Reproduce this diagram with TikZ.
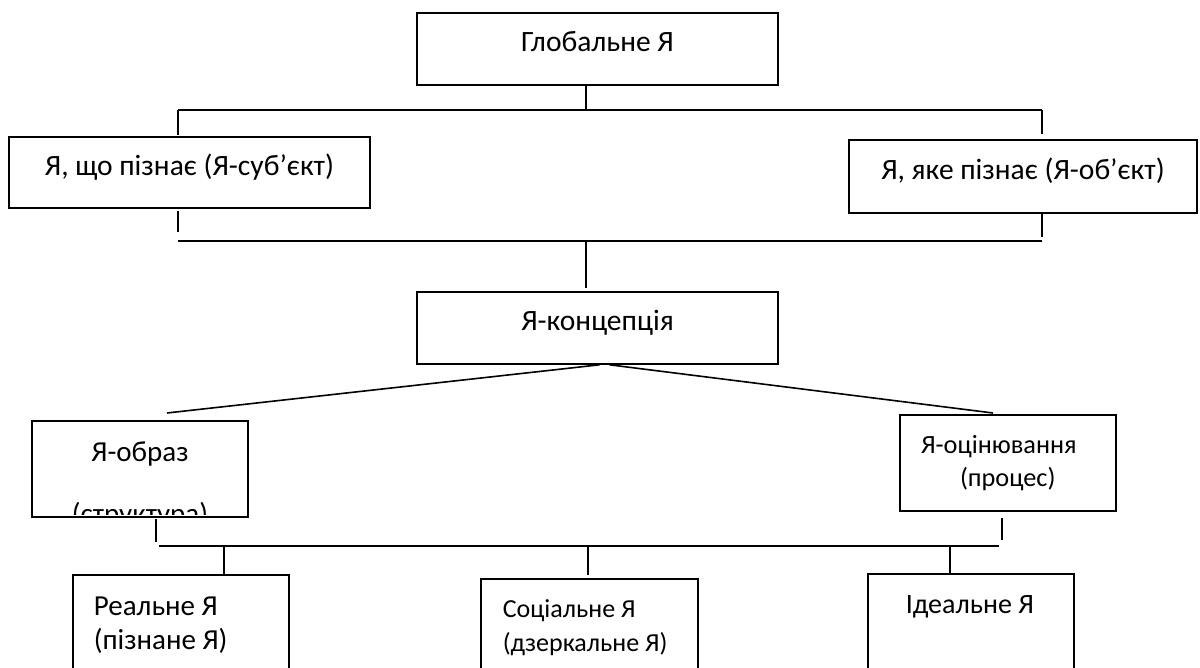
\documentclass[tikz,border=0pt]{standalone}
\usepackage{fontspec}
\setmainfont{Carlito}
\begin{document}
\begin{tikzpicture}[x=1pt, y=-1pt, line width=1.6pt,
    font=\fontsize{29.5}{34}\selectfont,
    frame/.style={draw, rectangle, inner sep=0pt},
    box/.style={frame, text height=20pt, text depth=14pt},
    lowbox/.style={draw, rectangle, anchor=north west, minimum width=#1, minimum height=130pt},
    boxtext/.style={anchor=north west, align=left, inner sep=0pt}]
  \useasboundingbox (0,0) rectangle (1200,668);
  \clip (0,0) rectangle (1200,668);

  % upper boxes
  \node[box, minimum width=361pt, minimum height=72pt] (glob) at (597.5,49) {Глобальне Я};
  \node[box, minimum width=361pt, minimum height=71pt] (subj) at (189.5,172.5) {Я, що пізнає (Я-суб’єкт)};
  \node[box, minimum width=348pt, minimum height=73pt] (obj) at (1023,176.5) {Я, яке пізнає (Я-об’єкт)};
  \node[box, minimum width=361pt, minimum height=72pt] (conc) at (597.5,328) {Я-концепція};

  % middle boxes
  \node[box, minimum width=216pt, minimum height=96pt, text depth=36pt, font=\fontsize{29}{34}\selectfont] (image) at (140,469) {Я-образ};
  \node[frame, minimum width=216pt, minimum height=96pt, text width=174pt, align=left,
        font=\fontsize{26.3}{33}\selectfont] (eval) at (1008,463) {Я-оцінювання\\\hspace*{39pt}(процес)};
  \begin{scope}
    \clip ([yshift=3pt]image.south west) rectangle (image.north east);
    \node[inner sep=0pt, anchor=base, font=\fontsize{29}{34}\selectfont] (struct) at (140,523) {(структура)};
  \end{scope}

  % lower boxes
  \node[lowbox=216pt] (real) at (72,574) {};
  \node[lowbox=217pt] (soc) at (480,578) {};
  \node[lowbox=206pt] (ideal) at (867,573) {};
  \node[boxtext, font=\fontsize{29}{34}\selectfont] (realtxt) at (93,596) {Реальне Я\\(пізнане Я)};
  \node[boxtext, font=\fontsize{26}{34}\selectfont] (soctxt) at (502,599) {Соціальне Я\\(дзеркальне Я)};
  \node[boxtext, font=\fontsize{28}{34}\selectfont] (idealtxt) at (905,594.5) {Ідеальне Я};

  % first bus
  \coordinate (busA) at (586,110);
  \coordinate (busAl) at (178,110);
  \coordinate (busAr) at (1042,110);
  \draw (busAl) -- (busAr);
  \draw (glob.south -| busA) -- (busA);
  \draw[shorten >=1pt] (busAl) -- (busAl |- subj.north);
  \draw[shorten >=5pt] (busAr) -- (busAr |- obj.north);

  % second bus
  \coordinate (busB) at (586,241);
  \coordinate (busBl) at (178,241);
  \coordinate (busBr) at (1042,241);
  \draw (busBl) -- (busBr);
  \draw[shorten <=2pt, shorten >=9pt] (subj.south -| busBl) -- (busBl);
  \draw[shorten >=4pt] (obj.south -| busBr) -- (busBr);
  \draw[shorten >=3pt] (busB) -- (busB |- conc.north);

  % slanted lines
  \coordinate (imgtop) at (167,413);
  \coordinate (evaltop) at (993,413);
  \draw ([xshift=2pt]conc.south) -- (imgtop);
  \draw ([xshift=12pt]conc.south) -- (evaltop);

  % third bus
  \coordinate (busCl) at (159,546);
  \coordinate (busCr) at (999,546);
  \coordinate (imgdrop) at (156,542);
  \coordinate (evaldrop) at (1002,540);
  \draw (busCl) -- (busCr);
  \draw[shorten <=1pt] (image.south -| imgdrop) -- (imgdrop);
  \draw[shorten <=6pt] (eval.south -| evaldrop) -- (evaldrop);
  \coordinate (dropR) at (224,546);
  \coordinate (dropS) at (588,546);
  \coordinate (dropI) at (950,546);
  \draw (dropR) -- (dropR |- real.north);
  \draw[shorten >=3pt] (dropS) -- (dropS |- soc.north);
  \draw (dropI) -- (dropI |- ideal.north);
\end{tikzpicture}
\end{document}
